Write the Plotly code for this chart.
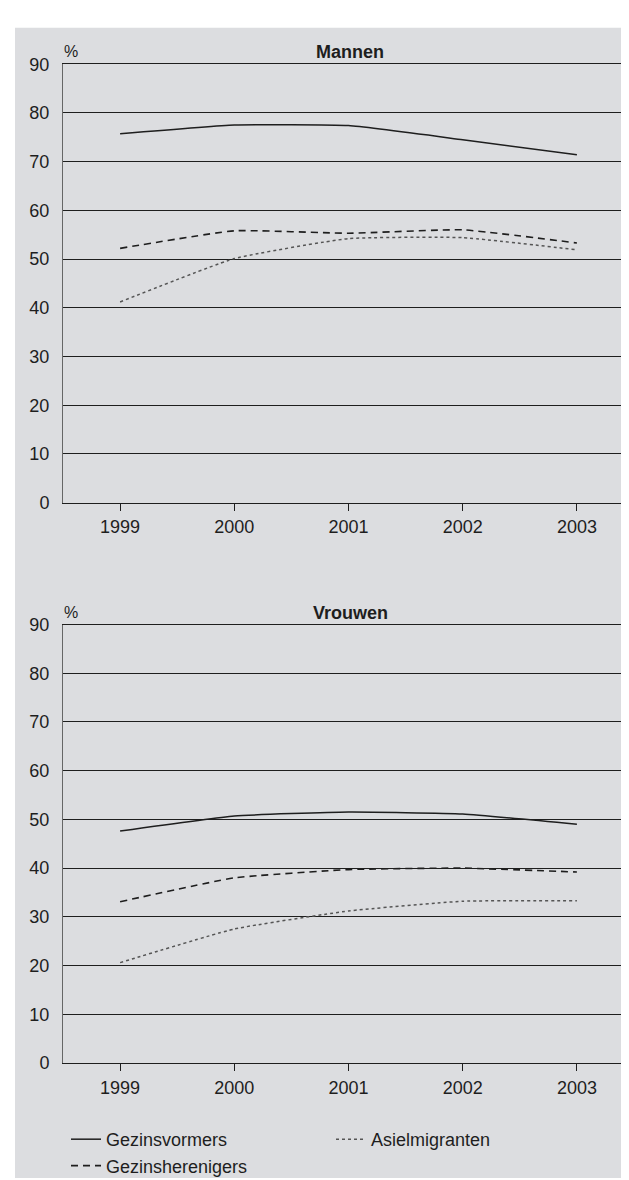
import plotly.graph_objects as go

years = [1999, 2000, 2001, 2002, 2003]
series_names = ["Gezinsvormers", "Asielmigranten", "Gezinsherenigers"]

mannen_gezinsvormers = [75.7, 77.5, 77.4, 74.5, 71.4]
mannen_gezinsherenigers = [52.2, 55.8, 55.3, 56.0, 53.3]
mannen_asielmigranten = [41.2, 50.1, 54.2, 54.4, 51.9]

vrouwen_gezinsvormers = [47.6, 50.7, 51.5, 51.1, 49.0]
vrouwen_gezinsherenigers = [33.1, 38.0, 39.7, 40.0, 39.2]
vrouwen_asielmigranten = [20.6, 27.5, 31.2, 33.2, 33.3]

y_ticks = [0, 10, 20, 30, 40, 50, 60, 70, 80, 90]
panel_titles = ["Mannen", "Vrouwen"]

W, H = 629, 1180
FONT = "Liberation Sans, Arial, sans-serif"
GRAY_BG = "#dcdde0"
INK = "#1e1e1e"
FS = 18

styles = {
    "Gezinsvormers": dict(color=INK, width=1.5, dash="solid"),
    "Asielmigranten": dict(color="#555555", width=1.5, dash="dot"),
    "Gezinsherenigers": dict(color=INK, width=1.6, dash="7px,5px"),
}

panels = [
    ("x", "y", {"Gezinsvormers": mannen_gezinsvormers,
                "Asielmigranten": mannen_asielmigranten,
                "Gezinsherenigers": mannen_gezinsherenigers}, True),
    ("x2", "y2", {"Gezinsvormers": vrouwen_gezinsvormers,
                  "Asielmigranten": vrouwen_asielmigranten,
                  "Gezinsherenigers": vrouwen_gezinsherenigers}, False),
]

fig = go.Figure()
for xa, ya, data, show in panels:
    for name in series_names:
        fig.add_trace(go.Scatter(
            x=years, y=data[name], name=name, mode="lines",
            line=dict(shape="spline", smoothing=0.4, **styles[name]),
            xaxis=xa, yaxis=ya, showlegend=show, hoverinfo="skip",
        ))

def px_x(v):
    return v / W

def px_y(v):
    return 1 - v / H

xdom = [px_x(55), px_x(626)]
top_dom = [px_y(493), px_y(47)]
bot_dom = [px_y(1063), px_y(617)]

xaxis_common = dict(
    domain=xdom, range=[1998.5, 2003.5], tickmode="array", tickvals=years,
    ticktext=[str(y) for y in years], ticks="outside", ticklen=7, tickcolor=INK,
    tickwidth=1, showline=True, linecolor=INK, linewidth=1, mirror=True,
    showgrid=False, zeroline=False, tickfont=dict(family=FONT, size=FS, color=INK),
    ticklabelstandoff=1, fixedrange=True,
)
yaxis_common = dict(
    range=[0, 90], tickmode="array", tickvals=y_ticks, ticks="",
    showline=True, linecolor="#666666", linewidth=1, mirror=True,
    showgrid=True, gridcolor=INK, gridwidth=1, zeroline=False,
    tickfont=dict(family=FONT, size=FS, color=INK), ticklabelstandoff=9,
    fixedrange=True,
)

fig.update_layout(
    width=W, height=H,
    margin=dict(l=0, r=0, t=0, b=0),
    paper_bgcolor="white",
    plot_bgcolor="white",
    font=dict(family=FONT, color=INK),
    xaxis=dict(anchor="y", **xaxis_common),
    yaxis=dict(domain=top_dom, anchor="x", **yaxis_common),
    xaxis2=dict(anchor="y2", **xaxis_common),
    yaxis2=dict(domain=bot_dom, anchor="x2", **yaxis_common),
    showlegend=True,
    legend=dict(
        orientation="h", x=px_x(58), y=px_y(1122), xanchor="left", yanchor="top",
        entrywidth=220, entrywidthmode="pixels", bgcolor="rgba(0,0,0,0)",
        font=dict(family=FONT, size=FS, color=INK), tracegroupgap=0,
        itemwidth=30,
    ),
    shapes=[dict(type="rect", xref="paper", yref="paper", x0=px_x(7), x1=1,
                 y0=0, y1=px_y(10), fillcolor=GRAY_BG, line=dict(width=0),
                 layer="below")],
)

for title, dom in zip(panel_titles, [top_dom, bot_dom]):
    fig.add_annotation(text=f"<b>{title}</b>", xref="paper", yref="paper",
                       x=px_x(342), y=dom[1], xanchor="center", yanchor="bottom",
                       showarrow=False, yshift=0,
                       font=dict(family=FONT, size=FS, color=INK))
    fig.add_annotation(text="%", xref="paper", yref="paper",
                       x=px_x(54), y=dom[1], xanchor="left", yanchor="bottom",
                       showarrow=False, yshift=2,
                       font=dict(family=FONT, size=16, color=INK))

fig.write_html("out.html")
